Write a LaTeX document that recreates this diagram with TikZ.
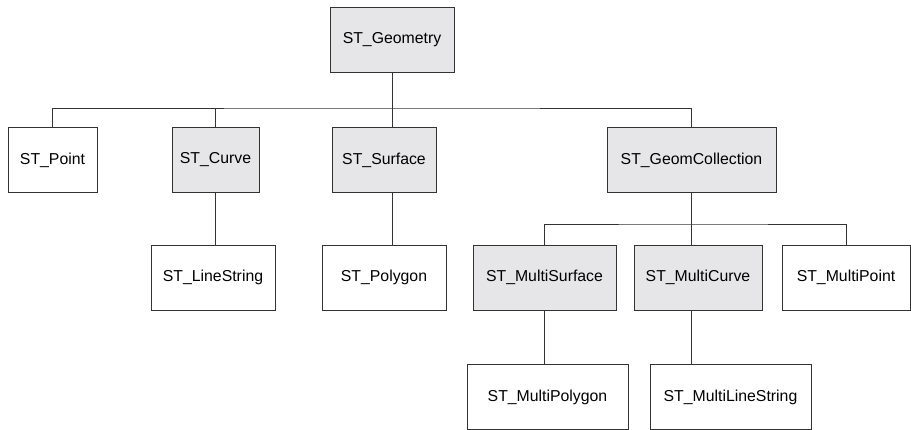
\documentclass[tikz,border=0pt]{standalone}
\usepackage{fontspec}
\setmainfont{Liberation Sans}
\usepackage{xcolor}
\usepackage{tikz}
\definecolor{boxfill}{HTML}{E6E6E8}
\definecolor{edge}{HTML}{333333}
\tikzset{
  cls/.style={draw=edge, line width=0.8pt, minimum height=1.95cm, inner sep=0pt,
    font=\fontsize{13.5}{15}\selectfont},
  abstr/.style={cls, fill=boxfill},
  link/.style={draw=edge, line width=0.8pt},
}

\begin{document}
\begin{tikzpicture}[x=0.03cm, y=-0.03cm]
  \useasboundingbox (0,0) rectangle (911,430);

  \node[abstr, minimum width=3.72cm] (geom) at (392,39.5) {ST\_Geometry};

  \node[cls, minimum width=2.67cm] (point) at (52.5,160) {ST\_Point};
  \node[abstr, minimum width=2.61cm] (curve) at (215.5,160) {ST\_Curve};
  \node[abstr, minimum width=3.12cm] (surface) at (384,160) {ST\_Surface};
  \node[abstr, minimum width=5.07cm] (gcoll) at (691.5,160) {ST\_GeomCollection};

  \node[cls, minimum width=3.72cm] (linestr) at (213,277.5) {ST\_LineString};
  \node[cls, minimum width=3.72cm] (polygon) at (384,277.5) {ST\_Polygon};
  \node[abstr, minimum width=4.29cm] (msurf) at (544.5,277.5) {ST\_MultiSurface};
  \node[abstr, minimum width=3.84cm] (mcurve) at (698,277.5) {ST\_MultiCurve};
  \node[cls, minimum width=3.84cm] (mpoint) at (846,277.5) {ST\_MultiPoint};

  \node[cls, minimum width=4.83cm] (mpoly) at (547.5,397) {ST\_MultiPolygon};
  \node[cls, minimum width=4.83cm] (mlinestr) at (730.5,397) {ST\_MultiLineString};

  % first level
  \coordinate (bus) at (392,108);
  \draw[link] (geom.south) -- (geom.south |- surface.north);
  \draw[link] (point.north) |- (bus) -| (gcoll.north);
  \draw[link] (curve.north) -- (curve.north |- bus);

  % second level
  \draw[link] (curve.south) -- (curve.south |- linestr.north);
  \draw[link] (geom.south |- surface.south) -- (geom.south |- polygon.north);
  \coordinate (bustwo) at (691.5,224);
  \draw[link] (gcoll.south) -- (gcoll.south |- mcurve.north);
  \draw[link] (msurf.north) |- (bustwo) -| (mpoint.north);

  % third level
  \draw[link] (msurf.south) -- (mpoly.north -| msurf.south);
  \draw[link] (gcoll.south |- mcurve.south) -- (gcoll.south |- mlinestr.north);
\end{tikzpicture}
\end{document}
